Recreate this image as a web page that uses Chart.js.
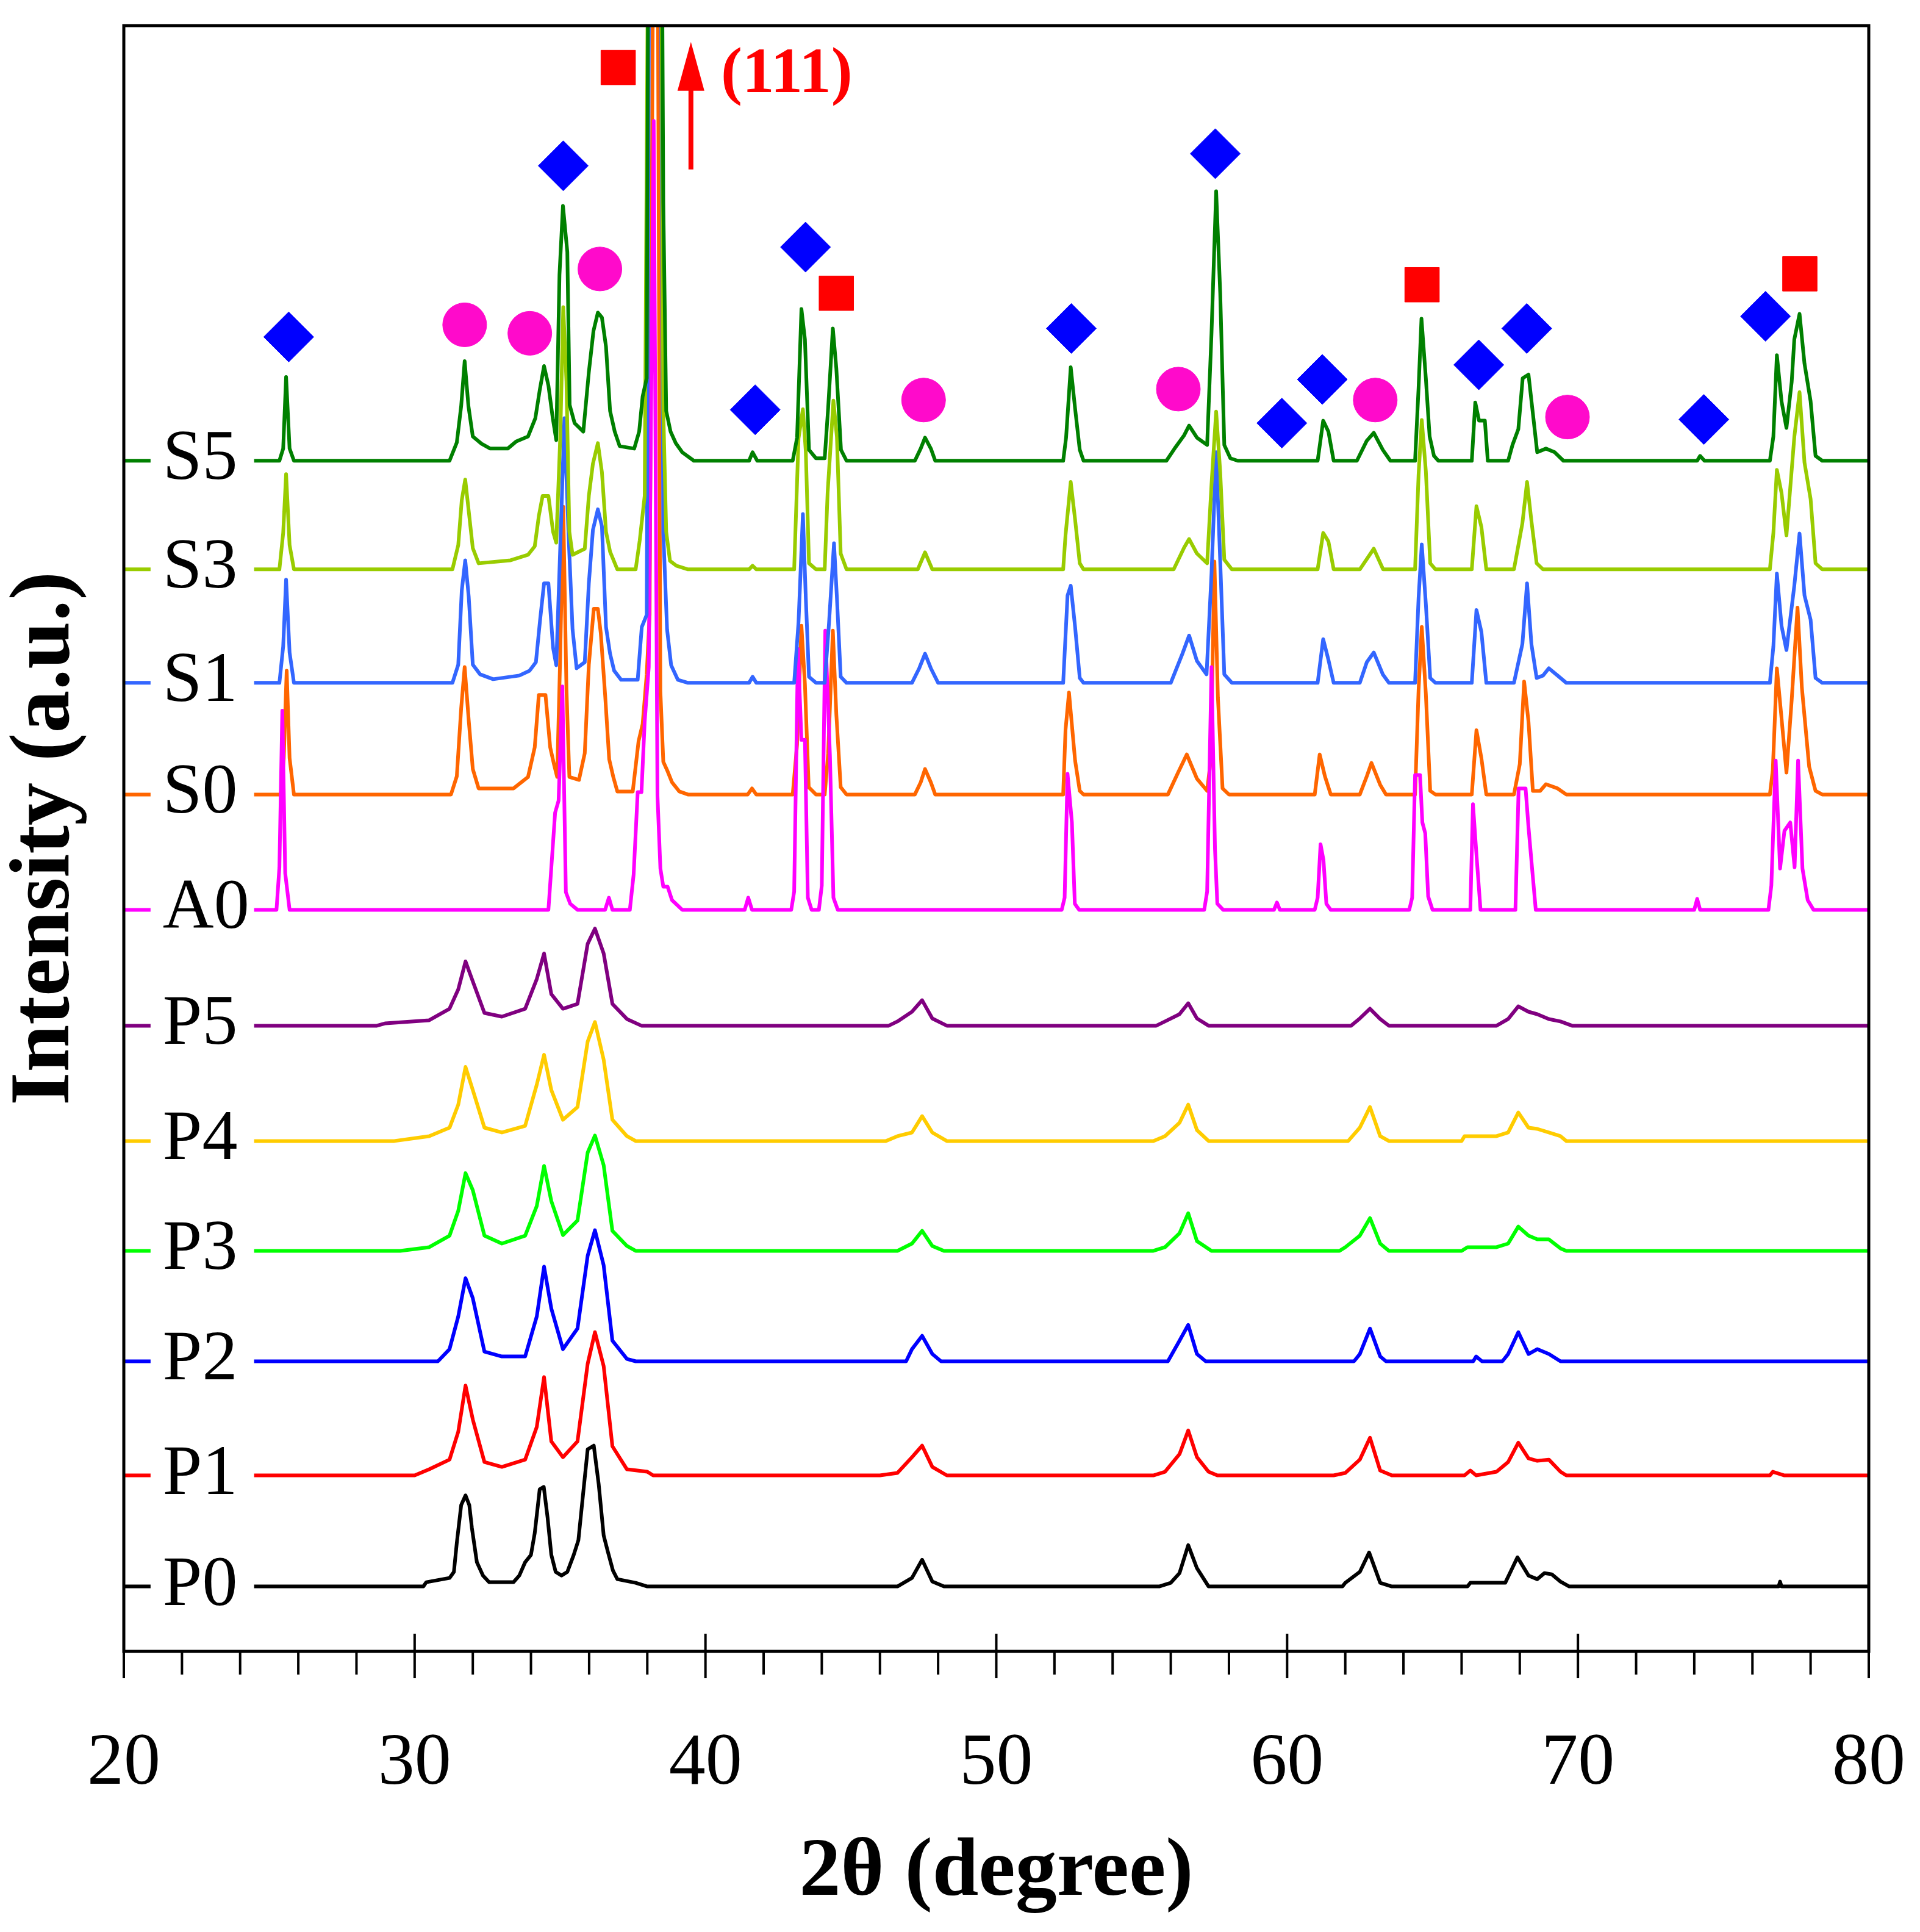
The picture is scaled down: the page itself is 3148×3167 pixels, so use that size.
<!DOCTYPE html>
<html>
<head>
<meta charset="utf-8">
<script src="https://cdn.jsdelivr.net/npm/chart.js@4.4.0/dist/chart.umd.min.js"></script>
<style>
  html, body { margin: 0; padding: 0; background: #fff; }
  canvas { display: block; }
</style>
</head>
<body>
<canvas id="xrd-chart" width="3148" height="3167"></canvas>
<script>
  // samples, top to bottom, with the height of each baseline in the stack
  const sampleNames = ['S5', 'S3', 'S1', 'S0', 'A0', 'P5', 'P4', 'P3', 'P2', 'P1', 'P0'];
  const baselines = [98.1, 89.15, 79.8, 70.6, 61.1, 51.55, 42.05, 33.0, 23.9, 14.5, 5.35];
  const lineColors = ['#008000', '#99cc00', '#3366ff', '#ff6600', '#ff00ff',
                      '#800080', '#ffcc00', '#00ff00', '#0000ff', '#ff0000', '#000000'];
  // smaller order = drawn later (on top)
  const drawOrder = [1, 2, 3, 5, 4, 6, 7, 8, 9, 10, 11];

  const xTicks = [20, 30, 40, 50, 60, 70, 80];
  const minorStep = 2;

  // patterns: [2θ, intensity above own baseline]
  const S5 = [[20,0],[25.35,0],[25.48,1.0],[25.58,6.9],[25.7,1.0],[25.85,0],
    [31.2,0],[31.45,1.5],[31.6,4.5],[31.72,8.2],[31.85,4.5],[32.0,2.0],[32.3,1.4],[32.6,1.0],[33.2,1.0],[33.5,1.6],[33.9,2.0],
    [34.15,3.5],[34.3,5.8],[34.45,7.8],[34.6,6.2],[34.75,3.5],[34.87,1.7],[34.98,15.3],[35.1,21.0],[35.25,17.2],[35.33,4.6],
    [35.5,3.1],[35.8,2.4],[35.99,7.3],[36.15,10.7],[36.3,12.2],[36.44,11.8],[36.58,9.4],[36.72,4.1],[36.88,2.4],[37.05,1.2],
    [37.55,1.0],[37.72,2.4],[37.84,5.3],[37.98,6.8],[38.07,70],[38.45,70],[38.55,21.3],[38.65,4.1],[38.8,2.4],[38.98,1.45],
    [39.2,0.7],[39.6,0],[41.5,0],[41.62,0.7],[41.78,0],
    [43.0,0],[43.15,1.9],[43.3,12.5],[43.42,10.0],[43.56,0.9],[43.8,0.2],[44.1,0.2],[44.22,4.4],[44.38,10.9],[44.5,7.6],[44.66,0.9],[44.85,0],
    [47.2,0],[47.4,1.0],[47.55,1.9],[47.75,1.0],[47.9,0],
    [52.3,0],[52.4,1.9],[52.56,7.7],[52.71,4.3],[52.87,0.9],[53.0,0],
    [55.85,0],[56.13,1.0],[56.46,2.1],[56.63,2.9],[56.9,1.9],[57.25,1.3],[57.4,10.5],[57.56,22.2],[57.7,13.8],[57.84,1.3],[58.05,0.2],[58.3,0],
    [61.05,0],[61.24,3.3],[61.42,2.4],[61.6,0],
    [62.4,0],[62.74,1.65],[62.98,2.3],[63.29,0.9],[63.55,0],
    [64.4,0],[64.52,6.0],[64.62,11.7],[64.77,6.8],[64.9,2.0],[65.05,0.4],[65.2,0],
    [66.35,0],[66.47,4.8],[66.6,3.3],[66.8,3.3],[66.9,0],
    [67.6,0],[67.75,1.3],[67.95,2.6],[68.1,6.8],[68.3,7.1],[68.45,3.9],[68.6,0.7],[68.9,1.0],[69.2,0.7],[69.5,0],
    [74.1,0],[74.2,0.4],[74.35,0],
    [76.6,0],[76.72,2.0],[76.84,8.7],[77.0,4.9],[77.17,2.7],[77.35,6.5],[77.44,10.0],[77.62,12.1],[77.79,8.0],[78.0,4.9],[78.17,0.4],[78.4,0],[80,0]];

  const S3 = [[20,0],[25.35,0],[25.48,3.0],[25.58,7.85],[25.7,2.0],[25.85,0],
    [31.3,0],[31.5,2.0],[31.62,5.7],[31.74,7.4],[31.86,4.8],[32.0,1.75],[32.2,0.5],[33.3,0.75],[33.9,1.2],[34.13,1.9],[34.27,4.4],
    [34.4,6.05],[34.6,6.05],[34.76,3.1],[34.87,2.2],[35.01,11.1],[35.11,21.6],[35.22,15.5],[35.32,3.1],[35.43,1.2],[35.85,1.7],
    [35.99,6.05],[36.13,8.7],[36.3,10.4],[36.44,8.0],[36.58,3.1],[36.72,1.45],[36.97,0],[37.6,0],[37.74,2.4],[37.91,6.05],
    [38.07,70],[38.45,70],[38.55,13.1],[38.65,3.1],[38.78,0.7],[39.0,0.3],[39.4,0],
    [41.5,0],[41.62,0.3],[41.75,0],
    [43.05,0],[43.2,10.8],[43.35,13.2],[43.45,9.7],[43.56,0.5],[43.8,0],[44.1,0],[44.2,6.3],[44.4,13.9],[44.52,10.9],[44.65,1.3],[44.85,0],
    [47.3,0],[47.55,1.4],[47.8,0],
    [52.3,0],[52.38,2.8],[52.56,7.2],[52.71,4.1],[52.87,0.5],[53.0,0],
    [56.1,0],[56.46,1.8],[56.63,2.5],[56.9,1.3],[57.25,0.5],[57.4,7.0],[57.56,13.0],[57.7,8.0],[57.84,0.8],[58.1,0],
    [61.05,0],[61.24,3.0],[61.42,2.3],[61.6,0],
    [62.5,0],[62.98,1.7],[63.3,0],
    [64.4,0],[64.52,7.8],[64.63,12.3],[64.77,8.1],[64.92,0.5],[65.1,0],
    [66.35,0],[66.51,5.2],[66.68,3.5],[66.85,0],
    [67.8,0],[68.09,3.8],[68.25,7.2],[68.4,4.0],[68.58,0.5],[68.8,0],
    [76.6,0],[76.72,3.0],[76.84,8.2],[77.0,6.3],[77.17,2.8],[77.44,10.9],[77.62,14.6],[77.79,8.8],[78.0,5.8],[78.17,0.5],[78.4,0],[80,0]];

  const S1 = [[20,0],[25.35,0],[25.48,3.0],[25.58,8.5],[25.7,2.5],[25.85,0],
    [31.3,0],[31.5,1.5],[31.62,7.6],[31.74,10.1],[31.86,7.1],[32.0,1.5],[32.25,0.7],[32.7,0.3],[33.6,0.6],[33.95,1.0],[34.17,1.7],
    [34.31,5.1],[34.45,8.2],[34.6,8.2],[34.76,2.9],[34.87,1.45],[35.01,11.4],[35.15,21.8],[35.29,12.35],[35.43,4.4],[35.57,1.2],
    [35.85,1.7],[35.99,8.2],[36.13,12.6],[36.3,14.3],[36.44,12.9],[36.58,4.6],[36.72,2.4],[36.86,1.0],[37.1,0.25],[37.67,0.25],
    [37.81,4.6],[37.98,5.6],[38.08,70],[38.45,70],[38.55,12.35],[38.68,4.4],[38.82,1.45],[39.05,0.25],[39.4,0],
    [41.5,0],[41.62,0.5],[41.75,0],
    [43.05,0],[43.2,5.0],[43.35,13.9],[43.45,7.0],[43.56,0.5],[43.8,0],[44.1,0],[44.25,5.0],[44.42,11.5],[44.52,7.0],[44.65,0.5],[44.85,0],
    [47.1,0],[47.35,1.2],[47.55,2.4],[47.75,1.2],[48.0,0],
    [52.3,0],[52.45,7.2],[52.56,8.0],[52.71,4.6],[52.87,0.4],[53.0,0],
    [56.0,0],[56.4,2.4],[56.63,3.9],[56.9,1.8],[57.23,0.7],[57.4,9.0],[57.56,19.0],[57.7,10.0],[57.84,0.7],[58.1,0],
    [61.05,0],[61.24,3.6],[61.42,1.9],[61.6,0],
    [62.5,0],[62.74,1.7],[62.98,2.5],[63.29,0.7],[63.5,0],
    [64.4,0],[64.52,7.0],[64.63,11.4],[64.77,6.5],[64.92,0.4],[65.1,0],
    [66.35,0],[66.51,6.0],[66.68,4.2],[66.85,0],
    [67.8,0],[68.09,3.2],[68.25,8.2],[68.4,3.2],[68.58,0.4],[68.8,0.6],[69.0,1.2],[69.3,0.6],[69.6,0],
    [76.6,0],[76.72,3.0],[76.84,9.0],[77.0,4.7],[77.17,2.7],[77.44,8.0],[77.62,12.3],[77.79,7.2],[78.0,5.2],[78.17,0.4],[78.4,0],[80,0]];

  const S0 = [[20,0],[25.4,0],[25.5,3.0],[25.6,10.2],[25.7,3.0],[25.85,0],
    [31.25,0],[31.45,1.5],[31.6,7.1],[31.72,10.5],[31.86,6.1],[32.0,2.1],[32.2,0.5],[33.4,0.5],[33.9,1.45],[34.13,3.9],[34.27,8.2],
    [34.5,8.2],[34.66,3.9],[34.8,2.4],[34.9,1.45],[35.0,10.9],[35.11,23.7],[35.22,8.7],[35.32,1.45],[35.65,1.2],[35.85,3.4],
    [35.99,10.7],[36.16,15.3],[36.3,15.3],[36.4,13.3],[36.55,8.2],[36.69,2.9],[36.83,1.45],[36.97,0.25],[37.5,0.25],[37.7,4.4],
    [37.84,5.8],[37.98,9.9],[38.08,14.8],[38.2,70],[38.36,70],[38.45,8.5],[38.55,2.7],[38.7,1.9],[38.85,1.0],[39.1,0.25],[39.4,0],
    [41.45,0],[41.6,0.5],[41.75,0],
    [43.0,0],[43.15,4.1],[43.3,13.9],[43.42,9.1],[43.55,0.6],[43.8,0],[44.1,0],[44.22,3.4],[44.38,13.5],[44.5,6.6],[44.65,0.6],[44.85,0],
    [47.2,0],[47.4,1.0],[47.55,2.1],[47.75,1.0],[47.9,0],
    [52.3,0],[52.38,5.3],[52.5,8.4],[52.71,2.8],[52.87,0.3],[53.0,0],
    [55.9,0],[56.25,1.8],[56.55,3.3],[56.9,1.3],[57.25,0.3],[57.38,3.0],[57.5,19.2],[57.62,8.0],[57.78,0.5],[58.0,0],
    [60.95,0],[61.12,3.3],[61.3,1.5],[61.5,0],
    [62.5,0],[62.74,1.5],[62.9,2.6],[63.2,0.8],[63.4,0],
    [64.4,0],[64.52,8.6],[64.63,13.8],[64.77,8.3],[64.92,0.3],[65.1,0],
    [66.35,0],[66.51,5.3],[66.68,3.0],[66.85,0],
    [67.8,0],[68.0,2.5],[68.15,9.3],[68.3,6.0],[68.45,0.3],[68.7,0.3],[68.9,0.85],[69.3,0.5],[69.6,0],
    [76.6,0],[76.7,2.0],[76.84,10.4],[77.0,6.3],[77.17,1.8],[77.35,7.8],[77.55,15.4],[77.7,8.8],[77.95,2.3],[78.17,0.3],[78.4,0],[80,0]];

  const A0 = [[20,0],[25.25,0],[25.35,3.5],[25.45,16.4],[25.55,3.0],[25.7,0],
    [34.6,0],[34.83,8.0],[34.95,9.0],[35.08,18.4],[35.2,1.45],[35.35,0.5],[35.6,0],[36.55,0],[36.68,1.0],[36.8,0],
    [37.4,0],[37.53,2.9],[37.67,9.7],[37.8,9.7],[37.91,15.5],[38.05,20],[38.22,65],[38.35,9.4],[38.45,3.4],[38.55,1.9],
    [38.7,1.9],[38.85,0.8],[39.2,0],
    [41.35,0],[41.47,1.0],[41.6,0],
    [42.95,0],[43.05,1.5],[43.18,21.5],[43.3,14.0],[43.42,14.0],[43.52,1.0],[43.65,0],[43.9,0],[44.0,2.0],[44.12,23.0],[44.28,12.7],[44.4,1.0],[44.55,0],
    [52.25,0],[52.35,1.0],[52.45,11.2],[52.6,7.2],[52.7,0.5],[52.85,0],
    [57.15,0],[57.25,1.5],[57.4,20.0],[57.52,5.0],[57.6,0.5],[57.8,0],
    [59.55,0],[59.65,0.6],[59.75,0],
    [60.95,0],[61.05,1.0],[61.15,5.4],[61.25,4.1],[61.35,0.5],[61.5,0],
    [64.2,0],[64.3,1.0],[64.4,11.1],[64.57,11.1],[64.65,7.2],[64.75,6.3],[64.85,1.1],[65.0,0],
    [66.3,0],[66.39,8.7],[66.53,3.9],[66.65,0],
    [67.85,0],[67.96,10.0],[68.2,10.0],[68.3,6.8],[68.42,3.5],[68.55,0],
    [74.0,0],[74.1,0.9],[74.2,0],
    [76.55,0],[76.65,2.0],[76.8,12.3],[76.95,3.4],[77.1,6.5],[77.3,7.2],[77.45,3.5],[77.57,12.3],[77.72,3.4],[77.9,0.8],[78.1,0],[80,0]];

  const P5 = [[20,0],[28.7,0],[29.0,0.2],[30.5,0.45],[31.2,1.4],[31.5,3.0],[31.75,5.3],[32.0,3.65],[32.4,1.05],[33.0,0.75],
    [33.8,1.4],[34.2,3.85],[34.45,5.95],[34.7,2.6],[35.1,1.4],[35.6,1.8],[35.95,6.75],[36.2,8.0],[36.5,5.95],[36.8,1.8],
    [37.3,0.55],[37.8,0],[46.3,0],[46.6,0.35],[47.1,1.15],[47.45,2.1],[47.8,0.6],[48.3,0],
    [55.5,0],[55.8,0.35],[56.3,0.95],[56.6,1.85],[56.9,0.6],[57.3,0],
    [62.2,0],[62.5,0.6],[62.85,1.4],[63.2,0.55],[63.5,0],
    [67.2,0],[67.6,0.55],[67.95,1.6],[68.3,1.15],[68.6,0.95],[69.0,0.55],[69.4,0.35],[69.8,0],[80,0]];

  const P4 = [[20,0],[29.3,0],[30.5,0.4],[31.2,1.1],[31.5,3.0],[31.75,6.1],[32.0,4.2],[32.4,1.1],[33.0,0.7],[33.8,1.25],
    [34.2,4.65],[34.45,7.1],[34.7,4.2],[35.1,1.75],[35.6,2.8],[35.95,8.2],[36.2,9.8],[36.5,6.7],[36.8,1.75],[37.3,0.4],[37.6,0],
    [46.2,0],[46.6,0.4],[47.1,0.7],[47.45,2.05],[47.8,0.7],[48.3,0],
    [55.4,0],[55.8,0.4],[56.3,1.5],[56.6,3.0],[56.9,0.9],[57.3,0],
    [62.1,0],[62.5,1.1],[62.85,2.8],[63.2,0.4],[63.5,0],
    [66.0,0],[66.1,0.4],[67.2,0.4],[67.6,0.7],[67.95,2.35],[68.3,1.1],[68.6,1.0],[69.0,0.7],[69.4,0.4],[69.6,0],[80,0]];

  const P3 = [[20,0],[29.5,0],[30.5,0.3],[31.2,1.25],[31.5,3.3],[31.75,6.4],[32.0,5.0],[32.4,1.25],[33.0,0.6],[33.8,1.25],
    [34.2,3.7],[34.45,7.0],[34.7,4.1],[35.1,1.3],[35.6,2.5],[35.95,8.1],[36.2,9.5],[36.5,7.05],[36.8,1.65],[37.3,0.4],[37.6,0],
    [46.6,0],[47.1,0.6],[47.45,1.65],[47.8,0.4],[48.2,0],
    [55.4,0],[55.8,0.3],[56.3,1.45],[56.6,3.1],[56.9,0.8],[57.4,0],
    [61.8,0],[62.0,0.3],[62.5,1.25],[62.85,2.7],[63.2,0.6],[63.5,0],
    [66.0,0],[66.2,0.3],[67.2,0.3],[67.6,0.6],[67.95,2.0],[68.3,1.25],[68.6,0.95],[69.0,0.95],[69.4,0.2],[69.6,0],[80,0]];

  const P2 = [[20,0],[30.8,0],[31.2,1.0],[31.5,3.7],[31.75,6.85],[32.0,5.2],[32.4,0.8],[33.0,0.4],[33.8,0.4],[34.2,3.7],
    [34.45,7.8],[34.7,4.35],[35.1,1.0],[35.6,2.7],[35.95,8.7],[36.2,10.8],[36.5,7.9],[36.8,1.7],[37.3,0.2],[37.6,0],
    [46.9,0],[47.1,1.0],[47.45,2.1],[47.8,0.6],[48.1,0],
    [55.9,0],[56.3,1.7],[56.6,3.0],[56.9,0.6],[57.2,0],
    [62.3,0],[62.5,0.6],[62.85,2.7],[63.2,0.4],[63.4,0],
    [66.4,0],[66.5,0.4],[66.7,0],[67.4,0],[67.6,0.6],[67.95,2.4],[68.3,0.6],[68.6,1.0],[69.0,0.6],[69.4,0],[80,0]];

  const P1 = [[20,0],[30.0,0],[30.5,0.5],[31.2,1.3],[31.5,3.6],[31.75,7.4],[32.0,4.6],[32.4,1.1],[33.0,0.7],[33.8,1.3],
    [34.2,4.0],[34.45,8.1],[34.7,2.8],[35.1,1.5],[35.6,2.8],[35.95,9.2],[36.2,11.8],[36.5,9.0],[36.8,2.4],[37.3,0.5],
    [38.0,0.3],[38.2,0],[46.0,0],[46.6,0.2],[47.1,1.5],[47.45,2.45],[47.8,0.7],[48.3,0],
    [55.4,0],[55.8,0.3],[56.3,1.75],[56.6,3.7],[56.9,1.5],[57.3,0.3],[57.6,0],
    [61.6,0],[62.0,0.2],[62.5,1.3],[62.85,3.1],[63.2,0.4],[63.6,0],
    [66.1,0],[66.3,0.4],[66.5,0],[67.2,0.3],[67.6,1.1],[67.95,2.7],[68.3,1.4],[68.6,1.2],[69.0,1.3],[69.4,0.3],[69.6,0],
    [76.6,0],[76.7,0.3],[77.1,0],[80,0]];

  const P0 = [[20,0],[30.3,0],[30.4,0.35],[31.2,0.7],[31.35,1.2],[31.45,3.6],[31.6,6.7],[31.75,7.5],[31.88,6.7],[31.97,4.8],
    [32.14,2.0],[32.35,0.9],[32.56,0.35],[33.4,0.35],[33.6,0.9],[33.8,2.0],[34.0,2.6],[34.13,4.4],[34.3,8.0],[34.44,8.2],
    [34.57,5.7],[34.7,2.6],[34.85,1.2],[35.05,0.9],[35.25,1.2],[35.47,2.6],[35.63,3.8],[35.8,7.8],[35.95,11.3],[36.16,11.6],
    [36.33,8.4],[36.5,4.2],[36.65,2.8],[36.82,1.3],[36.97,0.6],[37.6,0.3],[38.0,0],
    [46.6,0],[47.1,0.7],[47.45,2.2],[47.8,0.4],[48.2,0],
    [55.6,0],[56.0,0.3],[56.3,1.1],[56.6,3.4],[56.9,1.5],[57.3,0],
    [61.9,0],[62.0,0.3],[62.5,1.2],[62.82,2.8],[63.2,0.3],[63.6,0],
    [66.2,0],[66.3,0.3],[67.5,0.3],[67.7,1.3],[67.92,2.4],[68.3,0.9],[68.6,0.6],[68.85,1.1],[69.1,1.0],[69.4,0.4],[69.7,0],
    [76.9,0],[76.95,0.4],[77.0,0],[80,0]];

  const patterns = [S5, S3, S1, S0, A0, P5, P4, P3, P2, P1, P0];

  // phase markers [2θ, height on the stacked axis]
  const diamondPeaks = [[25.67,108.3],[35.11,122.4],[41.71,102.3],[43.44,115.7],[52.58,109],[57.53,123.4],
                        [59.82,101.2],[61.21,104.8],[66.59,106],[68.24,109],[74.33,101.5],[76.45,110]];
  const circlePeaks = [[31.72,109.3],[33.96,108.6],[36.37,113.9],[47.5,103.1],[56.26,104],[63.03,103.1],[69.64,101.7]];
  const squarePeaks = [[37.0,130.5],[44.5,111.9],[64.64,112.6],[77.63,113.5]];

  // (111) arrow: 2θ, tail height, tip height; label position
  const arrow111 = [39.5, 122.1, 132.6];
  const label111 = [40.53, 129.85];
  // 2θ span of the white strip holding the sample names
  const labelGap = [20.92, 24.48];

  const toPoints = (pairs, base) => pairs.map(p => ({ x: p[0], y: p[1] + base }));
  const toMarks = pairs => pairs.map(p => ({ x: p[0], y: p[1] }));

  const datasets = patterns.map((pat, i) => ({
    label: sampleNames[i],
    data: toPoints(pat, baselines[i]),
    borderColor: lineColors[i],
    borderWidth: 6,
    borderJoinStyle: 'round',
    pointRadius: 0,
    tension: 0,
    fill: false,
    order: drawOrder[i],
  }));

  const markerSet = (name, pts, style, color, r) => ({
    label: name,
    data: toMarks(pts),
    showLine: false,
    pointStyle: style,
    pointRadius: r,
    pointBackgroundColor: color,
    pointBorderColor: color,
    pointBorderWidth: 1,
    order: 0,
  });
  datasets.push(markerSet('diamond', diamondPeaks, 'rectRot', '#0000ff', 41));
  datasets.push(markerSet('circle', circlePeaks, 'circle', '#ff0acb', 36));
  datasets.push(markerSet('square', squarePeaks, 'rect', '#ff0000', 40));

  const overlay = {
    id: 'overlay',
    afterDatasetsDraw(chart) {
      const { ctx, chartArea: area, scales: { x, y } } = chart;
      ctx.save();

      // sample names sit in a gap cut into each trace
      const gl = x.getPixelForValue(labelGap[0]);
      const gr = x.getPixelForValue(labelGap[1]);
      ctx.font = "116px 'Liberation Serif'";
      ctx.textAlign = 'left';
      ctx.textBaseline = 'alphabetic';
      sampleNames.forEach((name, i) => {
        const py = y.getPixelForValue(baselines[i]);
        ctx.fillStyle = '#fff';
        ctx.fillRect(gl, py - 12, gr - gl, 24);
        ctx.fillStyle = '#000';
        ctx.fillText(name, gl + 20, py + 30);
      });

      // (111) arrow
      const ax = x.getPixelForValue(arrow111[0]);
      const yTail = y.getPixelForValue(arrow111[1]);
      const yTip = y.getPixelForValue(arrow111[2]);
      ctx.strokeStyle = '#ff0000';
      ctx.fillStyle = '#ff0000';
      ctx.lineWidth = 8;
      ctx.beginPath();
      ctx.moveTo(ax, yTail);
      ctx.lineTo(ax, yTip + 60);
      ctx.stroke();
      ctx.beginPath();
      ctx.moveTo(ax, yTip);
      ctx.lineTo(ax - 22, yTip + 80);
      ctx.lineTo(ax + 22, yTip + 80);
      ctx.closePath();
      ctx.fill();
      ctx.font = "bold 105px 'Liberation Serif'";
      ctx.textBaseline = 'middle';
      ctx.fillText('(111)', x.getPixelForValue(label111[0]), y.getPixelForValue(label111[1]));

      // frame
      ctx.strokeStyle = '#000';
      ctx.lineWidth = 5;
      ctx.strokeRect(area.left, area.top, area.right - area.left, area.bottom - area.top);

      // ticks: minor out, major out and in
      ctx.lineWidth = 4;
      ctx.beginPath();
      for (let v = xTicks[0]; v <= xTicks[xTicks.length - 1]; v += minorStep) {
        const px = x.getPixelForValue(v);
        const major = xTicks.includes(v);
        ctx.moveTo(px, area.bottom);
        ctx.lineTo(px, area.bottom + (major ? 44 : 38));
        if (major) {
          ctx.moveTo(px, area.bottom);
          ctx.lineTo(px, area.bottom - 29);
        }
      }
      ctx.stroke();
      ctx.restore();
    },
  };

  const ctx = document.getElementById('xrd-chart').getContext('2d');
  const xrdChart = new Chart(ctx, {
    type: 'line',
    data: { datasets },
    options: {
      responsive: false,
      devicePixelRatio: 1,
      animation: false,
      events: [],
      layout: { padding: { top: 28, right: 84, left: 0, bottom: 0 } },
      plugins: {
        legend: { display: false },
        tooltip: { enabled: false },
      },
      scales: {
        x: {
          type: 'linear',
          min: 20,
          max: 80,
          afterBuildTicks(scale) {
            scale.ticks = xTicks.map(v => ({ value: v }));
          },
          afterFit(scale) {
            scale.height = 460;
          },
          // tick marks are drawn by the overlay; tickLength only spaces the labels
          grid: { display: false, drawTicks: true, tickLength: 113 },
          border: { display: false },
          ticks: {
            padding: 0,
            maxRotation: 0,
            autoSkip: false,
            color: '#000',
            font: { family: 'Liberation Serif', size: 120 },
          },
          title: {
            display: true,
            text: '2θ (degree)',
            color: '#000',
            padding: { top: 0, bottom: 15 },
            font: { family: 'Liberation Serif', size: 136, weight: 'bold' },
          },
        },
        y: {
          type: 'linear',
          min: 0,
          max: 133.95,
          afterFit(scale) {
            scale.width = 203;
          },
          grid: { display: false, drawTicks: false },
          border: { display: false },
          ticks: { display: false },
          title: {
            display: true,
            text: 'Intensity (a.u.)',
            color: '#000',
            padding: { top: -8, bottom: 0 },
            font: { family: 'Liberation Serif', size: 140, weight: 'bold' },
          },
        },
      },
    },
    plugins: [overlay],
  });
</script>
</body>
</html>
